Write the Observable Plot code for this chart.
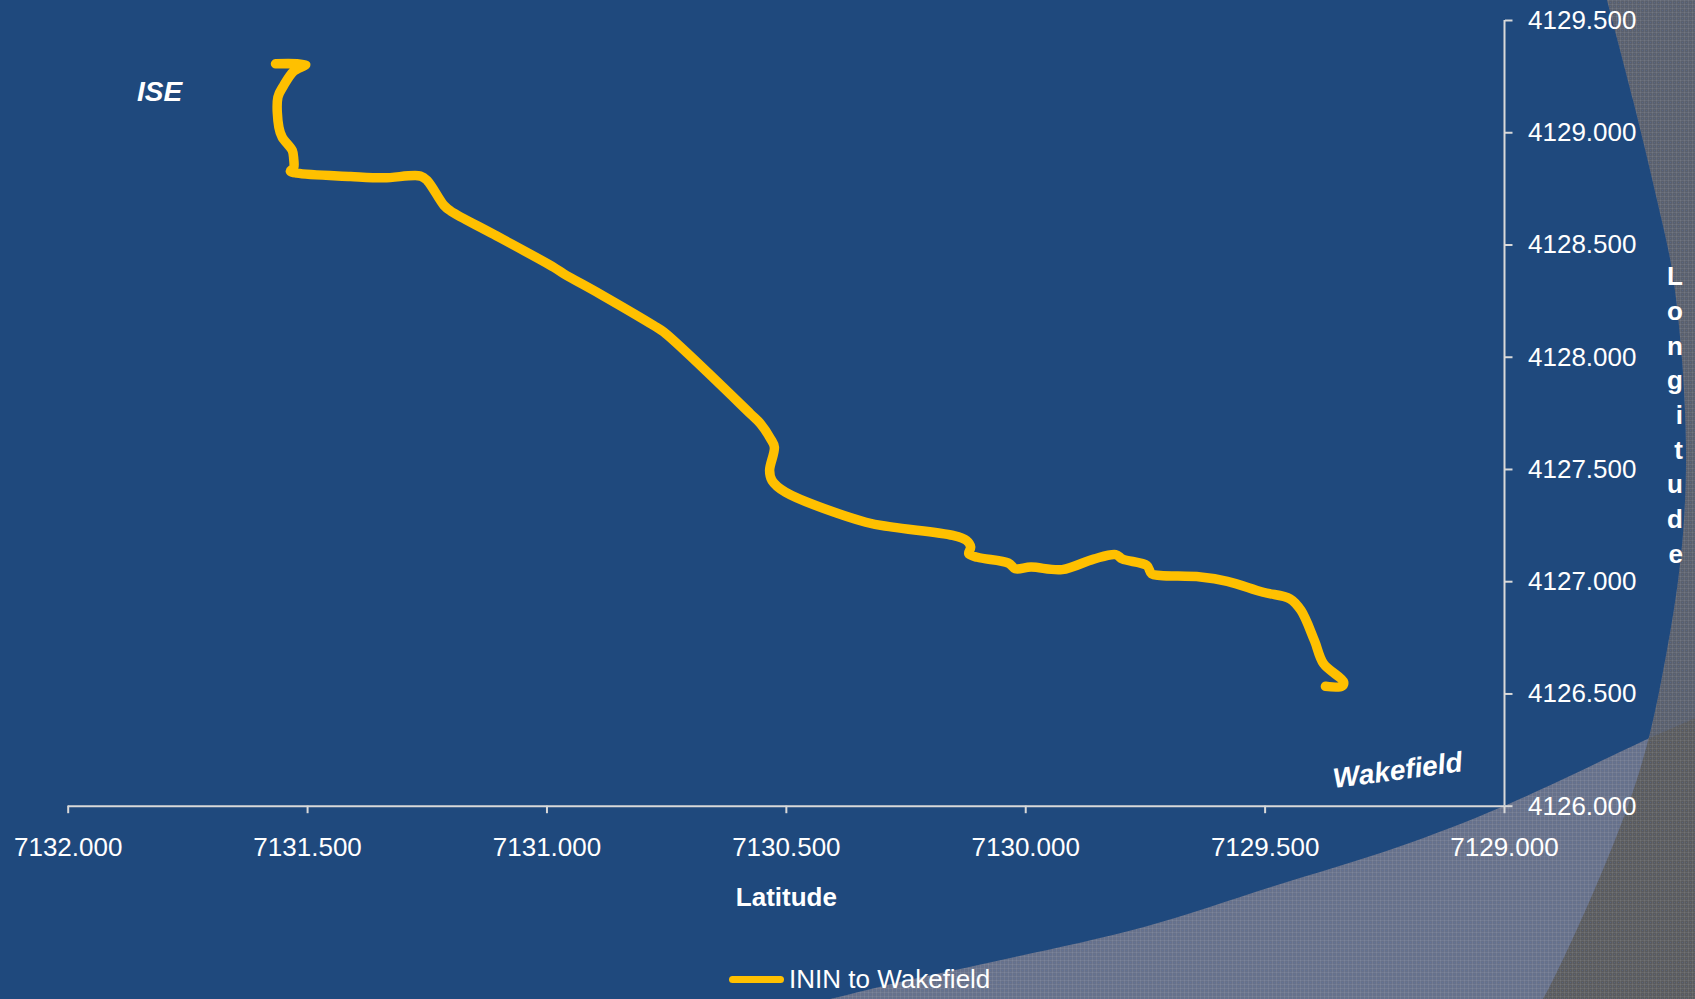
<!DOCTYPE html>
<html>
<head>
<meta charset="utf-8">
<script src="https://cdn.jsdelivr.net/npm/d3@7"></script>
<script src="https://cdn.jsdelivr.net/npm/@observablehq/plot@0.6"></script>
<style>
  html, body { margin: 0; padding: 0; }
  body { width: 1695px; height: 999px; overflow: hidden; position: relative; background: #5c5d60; font-family: "Liberation Sans", Arial, sans-serif; }
  #bg { position: absolute; left: 0; top: 0; z-index: 0; }
  #wrap { position: absolute; left: 0; top: 0; z-index: 1; width: 1695px; }
  #legend { height: 30px; margin-top: 24px; padding-left: 729px; display: flex; align-items: center; color: #fff; font-size: 26px; line-height: 30px; }
  #legend .swatch { display: inline-block; width: 55px; height: 7px; border-radius: 4px; background: #FFC000; margin-right: 5px; }
</style>
</head>
<body>
<div id="bg"></div>
<div id="wrap">
  <div id="chart"></div>
  <div id="legend"><span class="swatch"></span><span>ININ to Wakefield</span></div>
</div>
<script>
// ---- data ----
const seriesName = "ININ to Wakefield";
const routeLat = [7131.567, 7131.504, 7131.529, 7131.550, 7131.562, 7131.560, 7131.553, 7131.532, 7131.529, 7131.529,
  7131.536, 7131.522, 7131.410, 7131.341, 7131.264, 7131.250, 7131.215, 7131.201, 7131.111, 7130.986,
  7130.965, 7130.888, 7130.777, 7130.756, 7130.575, 7130.554, 7130.533, 7130.525, 7130.535, 7130.530,
  7130.502, 7130.334, 7130.278, 7130.152, 7130.124, 7130.115, 7130.119, 7130.101, 7130.036, 7130.022,
  7129.989, 7129.924, 7129.858, 7129.812, 7129.798, 7129.747, 7129.737, 7129.719, 7129.635, 7129.579,
  7129.504, 7129.448, 7129.425, 7129.397, 7129.378, 7129.336, 7129.340, 7129.374];
const routeLon = [4129.307, 4129.304, 4129.274, 4129.210, 4129.158, 4129.025, 4128.980, 4128.921, 4128.884, 4128.844,
  4128.829, 4128.820, 4128.805, 4128.799, 4128.807, 4128.787, 4128.676, 4128.651, 4128.547, 4128.401,
  4128.372, 4128.280, 4128.141, 4128.112, 4127.748, 4127.704, 4127.637, 4127.599, 4127.496, 4127.451,
  4127.399, 4127.265, 4127.243, 4127.206, 4127.184, 4127.154, 4127.125, 4127.109, 4127.083, 4127.058,
  4127.065, 4127.054, 4127.101, 4127.121, 4127.101, 4127.072, 4127.035, 4127.028, 4127.021, 4127.002,
  4126.953, 4126.924, 4126.872, 4126.738, 4126.635, 4126.553, 4126.534, 4126.534];
const xTicks = [7132.0, 7131.5, 7131.0, 7130.5, 7130.0, 7129.5, 7129.0];
const yTicks = [4126.0, 4126.5, 4127.0, 4127.5, 4128.0, 4128.5, 4129.0, 4129.5];
const placeNames = ["ISE", "Wakefield"];
const placeLat = [7131.809, 7129.223];
const placeLon = [4129.182, 4126.158];
const placeRotate = [0, -7.5];

const route = routeLat.map((lat, i) => ({lat, lon: routeLon[i]}));
const places = placeNames.map((name, i) => ({name, lat: placeLat[i], lon: placeLon[i], rotate: placeRotate[i]}));

// ---- decorative slide background ----
(function drawBackground() {
  const W = 1695, H = 999;
  const svg = d3.create("svg").attr("width", W).attr("height", H);
  const defs = svg.append("defs");
  const pat = defs.append("pattern").attr("id", "tex").attr("width", 4).attr("height", 4).attr("patternUnits", "userSpaceOnUse");
  pat.append("rect").attr("width", 4).attr("height", 1).attr("fill", "rgba(255,255,255,0.07)");
  pat.append("rect").attr("width", 1).attr("height", 4).attr("fill", "rgba(255,255,255,0.07)");
  pat.append("rect").attr("x", 2).attr("y", 2).attr("width", 1).attr("height", 1).attr("fill", "rgba(90,120,180,0.3)");
  const curve = d3.line().curve(d3.curveCatmullRom);
  const rightEdge = [[1607,0],[1633,100],[1657,200],[1672,270],[1682,360],[1686,450],[1684,520],[1678,581],[1667,650],[1650,733],[1630,800],[1590,900],[1543,999],[1535,1010]];
  const lowerEdge = [[700,1029],[830,999],[900,982],[992,962],[1144,927],[1271,887],[1398,847],[1504,806],[1652,737],[1695,718],[1750,690]];
  const ellipseD = curve(rightEdge) + "L-10,1010L-10,0L1607,-10Z";
  const aboveD = curve(lowerEdge) + "L1750,-10L-10,-10L-10,1100L700,1100Z";
  defs.append("clipPath").attr("id", "above").append("path").attr("d", aboveD);
  svg.append("rect").attr("width", W).attr("height", H).attr("fill", "#5a5b5e");
  svg.append("path").attr("d", aboveD).attr("fill", "#5a606d");
  svg.append("path").attr("d", ellipseD).attr("fill", "#67718a");
  svg.append("rect").attr("width", W).attr("height", H).attr("fill", "url(#tex)");
  svg.append("path").attr("d", ellipseD).attr("clip-path", "url(#above)").attr("fill", "#1F497D");
  document.getElementById("bg").appendChild(svg.node());
})();

// ---- chart ----
const fmt = d => d.toFixed(3);
const axisColor = "#d9d9d9";
const chart = Plot.plot({
  width: 1695,
  height: 940,
  marginLeft: 67.7,
  marginRight: 191,
  marginTop: 20,
  marginBottom: 134.3,
  style: {background: "transparent", color: "white", fontFamily: "'Liberation Sans', Arial, sans-serif", overflow: "visible"},
  x: {domain: [7132, 7129]},
  y: {domain: [4126, 4129.5]},
  marks: [
    Plot.ruleY([4126], {stroke: axisColor, strokeWidth: 2}),
    Plot.ruleX([7129], {stroke: axisColor, strokeWidth: 2}),
    Plot.axisX({ticks: xTicks, tickFormat: fmt, tickSize: 7.5, tickPadding: 24, stroke: axisColor, strokeWidth: 2, fill: "white", fontSize: 26, label: null}),
    Plot.axisY({anchor: "right", ticks: yTicks, tickFormat: fmt, tickSize: 7.5, tickPadding: 16, stroke: axisColor, strokeWidth: 2, fill: "white", fontSize: 26, label: null}),
    Plot.text(["Latitude"], {frameAnchor: "bottom", dy: 99.5, fontSize: 26, fontWeight: "bold", fill: "white"}),
    Plot.text(["L\no\nn\ng\ni\nt\nu\nd\ne"], {frameAnchor: "right", dx: 178.5, dy: -0.5, lineHeight: 1.335, fontSize: 26, fontWeight: "bold", fill: "white"}),
    Plot.line(route, {x: "lat", y: "lon", curve: "catmull-rom", stroke: "#FFC000", strokeWidth: 9.5, strokeLinejoin: "round", strokeLinecap: "round"}),
    Plot.text(places, {x: "lat", y: "lon", text: "name", rotate: "rotate", fontSize: 28, fontWeight: "bold", fontStyle: "italic", fill: "white"})
  ]
});
document.getElementById("chart").appendChild(chart);
</script>
</body>
</html>
